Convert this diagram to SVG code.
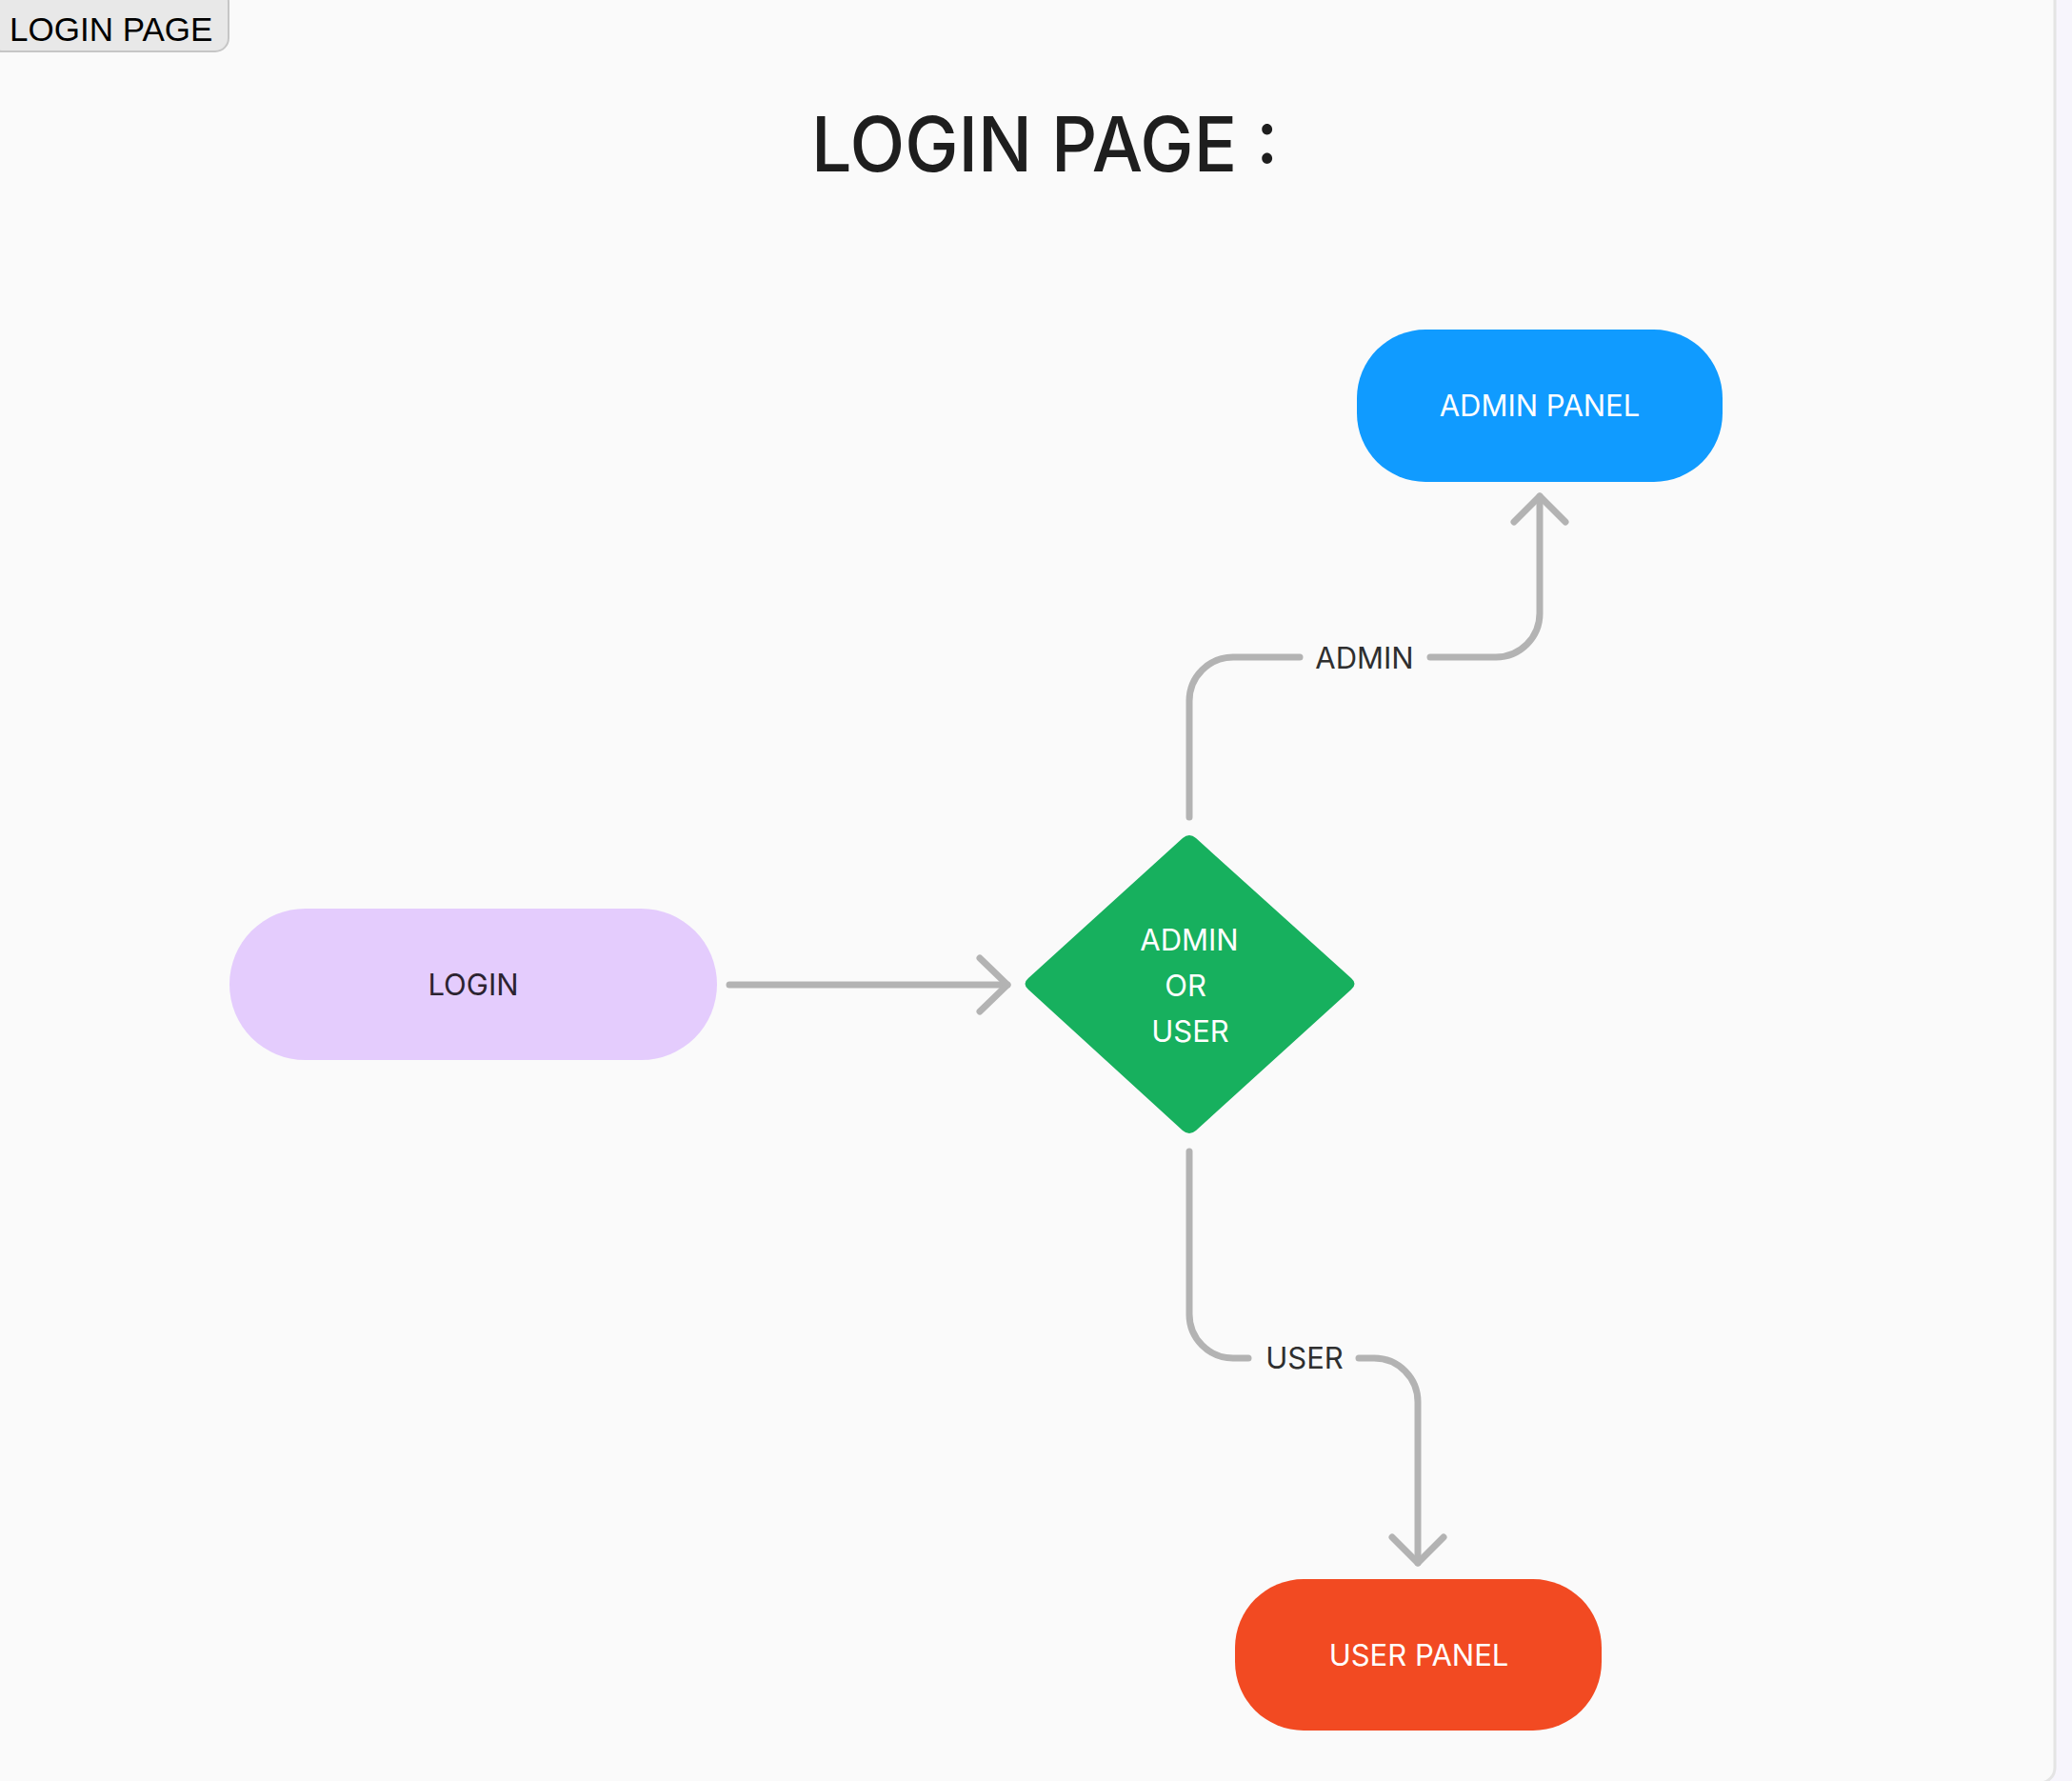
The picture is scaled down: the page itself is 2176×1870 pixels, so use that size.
<svg xmlns="http://www.w3.org/2000/svg" width="2176" height="1870" viewBox="0 0 2176 1870">
  <style>
    .lbl { font-family: Inter, "Noto Sans", "Liberation Sans", sans-serif; font-size: 31px; text-anchor: middle; }
    .white { fill: #ffffff; }
    .edge { fill: none; stroke: #b3b3b3; stroke-width: 7; stroke-linecap: round; stroke-linejoin: round; }
  </style>

  <!-- page backdrop and canvas frame -->
  <rect x="0" y="0" width="2176" height="1870" fill="#f7f5fc"/>
  <rect x="-20" y="-20" width="2178" height="1892" rx="16" fill="#fafafa" stroke="#e4e4e4" stroke-width="3"/>

  <!-- tab button -->
  <g id="tab">
    <rect x="-12" y="-12" width="252" height="66" rx="14" fill="#e8e8e8" stroke="#c6c6c6" stroke-width="2"/>
    <text x="10" y="43" font-family="'Liberation Sans', Arial, sans-serif" font-size="35" fill="#000000">LOGIN PAGE</text>
  </g>

  <!-- heading -->
  <g id="title">
    <text x="1097" y="180" font-family="Inter, 'Noto Sans', 'Liberation Sans', sans-serif" font-size="80" font-weight="500" fill="#1e1e1e" text-anchor="middle" textLength="490" lengthAdjust="spacingAndGlyphs">LOGIN PAGE :</text>
  </g>

  <!-- connectors -->
  <g id="connectors">
    <!-- login to decision -->
    <path class="edge" d="M766 1034 H1058"/>
    <path class="edge" d="M1029 1006 L1058 1034 L1029 1062"/>
    <!-- decision to admin panel -->
    <path class="edge" d="M1249 858 V736 A46 46 0 0 1 1295 690 H1365"/>
    <path class="edge" d="M1502 690 H1571 A46 46 0 0 0 1617 644 V521"/>
    <path class="edge" d="M1590 548 L1617 521 L1644 548"/>
    <text class="lbl" x="1433" y="702" fill="#2f2f2f">ADMIN</text>
    <!-- decision to user panel -->
    <path class="edge" d="M1249 1209 V1380 A46 46 0 0 0 1295 1426 H1311"/>
    <path class="edge" d="M1427 1426 H1443 A46 46 0 0 1 1489 1472 V1641"/>
    <path class="edge" d="M1462 1614 L1489 1641 L1516 1614"/>
    <text class="lbl" x="1370" y="1437" fill="#2f2f2f">USER</text>
  </g>

  <!-- nodes -->
  <g id="login">
    <rect x="241" y="954" width="512" height="159" rx="79.5" fill="#e4ccfd"/>
    <text class="lbl" x="497" y="1045" fill="#2c2330">LOGIN</text>
  </g>

  <g id="decision">
    <path d="M1242 880 Q1249 874 1256 880 L1419 1027 Q1426 1033 1419 1039 L1256 1187 Q1249 1193 1242 1187 L1080 1039 Q1073 1033 1080 1027 Z" fill="#17b05e"/>
    <text class="lbl white" x="1249" y="998">ADMIN</text>
    <text class="lbl white" x="1245" y="1046">OR</text>
    <text class="lbl white" x="1250" y="1094">USER</text>
  </g>

  <g id="admin-panel">
    <rect x="1425" y="346" width="384" height="160" rx="72" fill="#109bff"/>
    <text class="lbl white" x="1617" y="437">ADMIN PANEL</text>
  </g>

  <g id="user-panel">
    <rect x="1297" y="1658" width="385" height="159" rx="72" fill="#f24a22"/>
    <text class="lbl white" x="1490" y="1749">USER PANEL</text>
  </g>
</svg>
